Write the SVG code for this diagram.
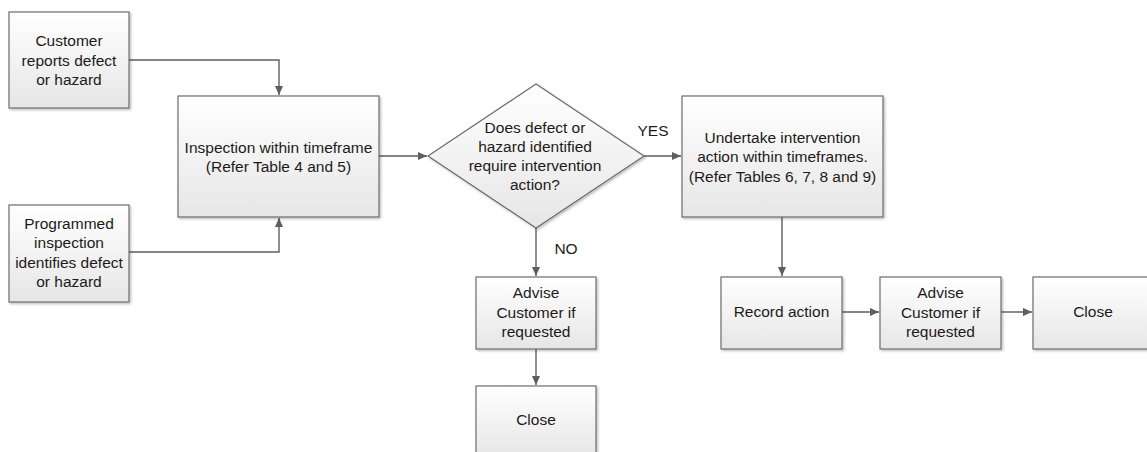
<svg xmlns="http://www.w3.org/2000/svg" width="1147" height="452" viewBox="0 0 1147 452">
<style>
.box{fill:url(#g);stroke:#6d6d6d;stroke-width:1.2;filter:url(#sh)}
.t{font-family:"Liberation Sans",Arial,sans-serif;font-size:15.5px;fill:#1e1a1a;text-anchor:middle}
.c{fill:none;stroke:#5e5e5e;stroke-width:1.4;marker-end:url(#ah)}
</style>
<defs>
<linearGradient id="g" x1="0" y1="0" x2="0" y2="1">
<stop offset="0" stop-color="#ffffff"/>
<stop offset="1" stop-color="#e6e6e6"/>
</linearGradient>
<filter id="sh" x="-10%" y="-10%" width="130%" height="130%">
<feDropShadow dx="1.5" dy="1.5" stdDeviation="1" flood-color="#000" flood-opacity="0.25"/>
</filter>
<marker id="ah" markerUnits="userSpaceOnUse" markerWidth="10" markerHeight="10" refX="9" refY="5" orient="auto">
<path d="M0,1 L9,5 L0,9 Z" fill="#5e5e5e"/>
</marker>
</defs>
<rect width="1147" height="452" fill="#fff"/>
<g id="connectors">
<path class="c" d="M129,60 H279 V95"/>
<path class="c" d="M129,252 H279 V218"/>
<path class="c" d="M379,156 H427"/>
<path class="c" d="M644,156 H681"/>
<path class="c" d="M536,228 V276"/>
<path class="c" d="M536,349 V385"/>
<path class="c" d="M782,217 V276"/>
<path class="c" d="M842,312 H879"/>
<path class="c" d="M1001,312 H1032"/>
<text class="t" x="653" y="136">YES</text>
<text class="t" x="566" y="254">NO</text>
</g>
<g id="n1">
<rect class="box" x="9" y="12" width="120" height="96"/>
<text class="t" x="69" y="46">Customer</text>
<text class="t" x="69" y="66">reports defect</text>
<text class="t" x="69" y="85">or hazard</text>
</g>
<g id="n2">
<rect class="box" x="9" y="205" width="120" height="97"/>
<text class="t" x="69" y="229">Programmed</text>
<text class="t" x="69" y="248">inspection</text>
<text class="t" x="69" y="268">identifies defect</text>
<text class="t" x="69" y="287">or hazard</text>
</g>
<g id="n3">
<rect class="box" x="178" y="96" width="201" height="121"/>
<text class="t" x="278.5" y="153">Inspection within timeframe</text>
<text class="t" x="278.5" y="172">(Refer Table 4 and 5)</text>
</g>
<g id="n4">
<polygon class="box" points="428,156 536,84 644,156 536,228"/>
<text class="t" x="535" y="133">Does defect or</text>
<text class="t" x="535" y="152">hazard identified</text>
<text class="t" x="535" y="171">require intervention</text>
<text class="t" x="535" y="190">action?</text>
</g>
<g id="n5">
<rect class="box" x="682" y="96" width="201" height="121"/>
<text class="t" x="782.5" y="143">Undertake intervention</text>
<text class="t" x="782.5" y="162">action within timeframes.</text>
<text class="t" x="782.5" y="182">(Refer Tables 6, 7, 8 and 9)</text>
</g>
<g id="n6">
<rect class="box" x="476" y="277" width="120" height="72"/>
<text class="t" x="536" y="298">Advise</text>
<text class="t" x="536" y="318">Customer if</text>
<text class="t" x="536" y="337">requested</text>
</g>
<g id="n7">
<rect class="box" x="476" y="386" width="120" height="72"/>
<text class="t" x="536" y="425">Close</text>
</g>
<g id="n8">
<rect class="box" x="721" y="277" width="121" height="72"/>
<text class="t" x="781.5" y="317">Record action</text>
</g>
<g id="n9">
<rect class="box" x="880" y="277" width="121" height="72"/>
<text class="t" x="940.5" y="298">Advise</text>
<text class="t" x="940.5" y="318">Customer if</text>
<text class="t" x="940.5" y="337">requested</text>
</g>
<g id="n10">
<rect class="box" x="1033" y="277" width="121" height="72"/>
<text class="t" x="1093" y="317">Close</text>
</g>
</svg>
